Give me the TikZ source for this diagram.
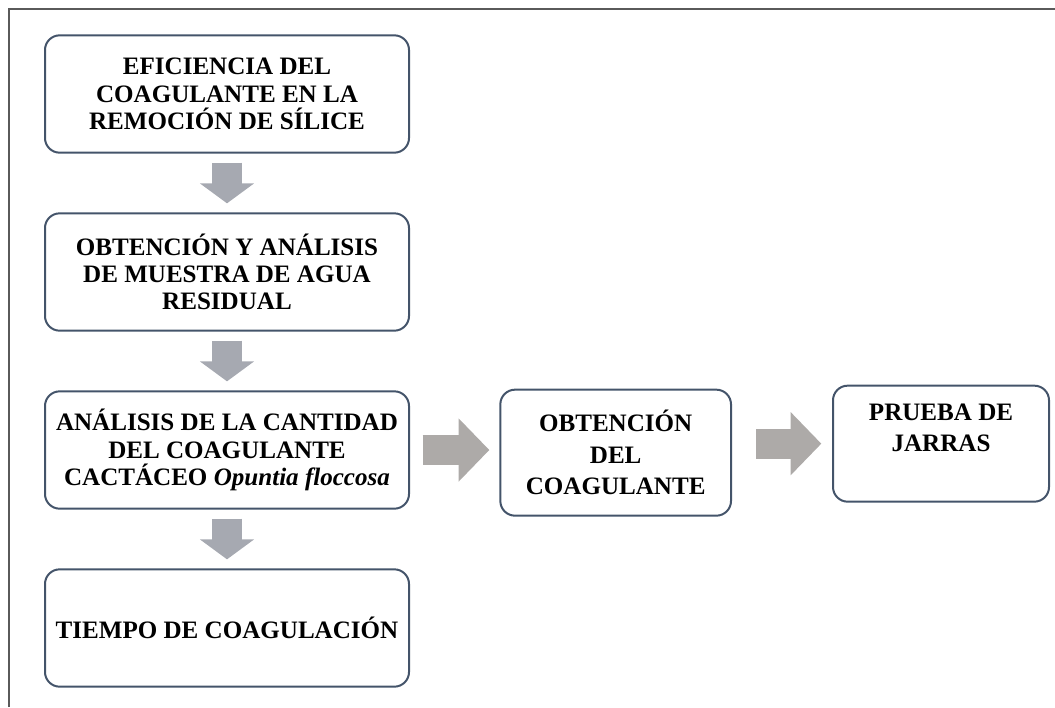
\documentclass[tikz,border=0pt]{standalone}
\usepackage{fontspec}
\setmainfont{Liberation Serif}
\usepackage{xcolor}
\usepackage{tikz}
\usetikzlibrary{arrows.meta, positioning}
\definecolor{boxborder}{RGB}{68, 84, 106}
\definecolor{downgray}{RGB}{166, 169, 177}
\definecolor{rightgray}{RGB}{173, 170, 168}
\definecolor{framegray}{RGB}{90, 90, 90}

\begin{document}
\begin{tikzpicture}[
  x=0.75pt, y=0.75pt,
  node distance=44pt,
  stage/.style={rectangle, draw=boxborder, line width=1.5pt, rounded corners=11pt,
                minimum width=273pt, minimum height=88pt, align=center, inner sep=2pt,
                font=\fontsize{18.8}{20.5}\selectfont\bfseries},
  loose/.style={font=\fontsize{18.8}{23.5}\selectfont\bfseries},
  downarr/.style={draw=downgray, line width=23pt,
                  -{Triangle[length=15pt, width=40pt]}, shorten <=6.75pt, shorten >=6.75pt},
  rightarr/.style={draw=rightgray, line width=22.5pt,
                   -{Triangle[length=23pt, width=46pt]}}
]
\useasboundingbox (0,0) rectangle (1055,-707);
\draw[framegray, line width=1.5pt] (9,-707) -- (9,-9) -- (1055,-9);

\node[stage] (efic) at (227,-94) {EFICIENCIA DEL\\COAGULANTE EN LA\\REMOCIÓN DE SÍLICE};
\node[stage, below=of efic] (muestra) {OBTENCIÓN Y ANÁLISIS\\DE MUESTRA DE AGUA\\RESIDUAL};
\node[stage, below=of muestra] (cantidad) {ANÁLISIS DE LA CANTIDAD\\DEL COAGULANTE\\CACTÁCEO \textit{Opuntia floccosa}};
\node[stage, below=of cantidad] (tiempo) {TIEMPO DE COAGULACIÓN};
\node[stage, loose, right=67pt of cantidad, minimum width=173pt, minimum height=94.5pt, yshift=-2pt] (obten) {OBTENCIÓN\\DEL\\COAGULANTE};
\node[stage, loose, right=75pt of obten, minimum width=162pt, minimum height=87pt, yshift=6.75pt] (jarras) {PRUEBA DE\\JARRAS\\\mbox{}};

\draw[downarr] (efic) -- (muestra);
\draw[downarr] (muestra) -- (cantidad);
\draw[downarr] (cantidad) -- (tiempo);
\draw[rightarr, shorten <=9.5pt, shorten >=7.5pt] (cantidad.east) -- (cantidad.east -| obten.west);
\draw[rightarr, shorten <=18pt, shorten >=8pt] (obten.east |- jarras.west) -- (jarras.west);
\end{tikzpicture}
\end{document}
